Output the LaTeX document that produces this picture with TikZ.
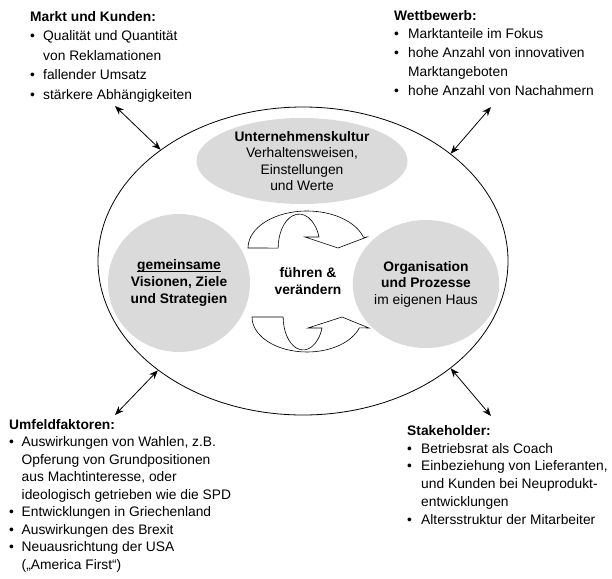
\documentclass[tikz,border=0pt]{standalone}
\usepackage{fontspec}
\setmainfont{Liberation Sans}
\usetikzlibrary{arrows.meta,shapes.geometric}
\definecolor{softgrey}{HTML}{DADADA}
\newcommand{\mybul}[1]{\makebox[#1][l]{\textbullet}}
\newsavebox{\myulbox}
\newcommand{\myul}[1]{\sbox{\myulbox}{#1}\rlap{\usebox{\myulbox}}\rule[-2.6pt]{\wd\myulbox}{0.9pt}}
\tikzset{
  txt/.style={inner sep=0pt, align=left, anchor=north west},
  greyblob/.style={ellipse, fill=softgrey, draw=none, inner sep=0pt, align=center,
    font=\fontsize{13.8}{16.5}\selectfont},
  link/.style={line width=0.8pt, {Stealth[length=9pt,width=7pt]}-{Stealth[length=9pt,width=7pt]}},
  turn/.style={line width=0.6pt, fill=white},
}
\begin{document}
\begin{tikzpicture}[x=1pt,y=-1pt]
\useasboundingbox (0,0) rectangle (612,578);

% outer frame
\node[ellipse, draw, line width=0.8pt, minimum width=410pt, minimum height=308pt, inner sep=0pt] (frame) at (303,261) {};

% grey blobs
\node[greyblob, minimum width=211pt, minimum height=86pt] (kultur) at (302,161)
  {\textbf{Unternehmenskultur}\\Verhaltensweisen,\\Einstellungen\\und Werte};
\node[greyblob, minimum width=142pt, minimum height=138pt, font=\fontsize{13.8}{16.8}\selectfont\bfseries] (vision) at (179,283)
  {\myul{gemeinsame}\\Visionen, Ziele\\und Strategien};
\node[greyblob, minimum width=142pt, minimum height=128pt] (orga) at (426,284)
  {\textbf{Organisation}\\\textbf{und Prozesse}\\im eigenen Haus};

% centre text
\node[inner sep=0pt, align=center, font=\fontsize{13.8}{16.5}\selectfont\bfseries] (fuehren) at (308,281)
  {führen \&\\verändern};

% curved arrows
\draw[turn] (248,248) arc[start angle=180, end angle=343, x radius=59, y radius=37]
  -- (367,237) -- (338,248) -- (305,237) -- (319,237)
  arc[start angle=341, end angle=180, x radius=21, y radius=34] -- cycle;
\draw[turn] (252,317) arc[start angle=180, end angle=18, x radius=55, y radius=35]
  -- (369,328) -- (342,317) -- (308,328) -- (322,328)
  arc[start angle=19.5, end angle=180, x radius=20, y radius=33] -- cycle;

% text blocks
\node[txt, font=\fontsize{13.8}{19.5}\selectfont] (markt) at (30,11)
  {\textbf{Markt und Kunden:}\\
   \mybul{13pt}Qualität und Quantität\\
   \hspace*{13pt}von Reklamationen\\
   \mybul{13pt}fallender Umsatz\\
   \mybul{13pt}stärkere Abhängigkeiten};
\node[txt, font=\fontsize{13.8}{18.75}\selectfont] (wett) at (394,10)
  {\textbf{Wettbewerb:}\\
   \mybul{14pt}Marktanteile im Fokus\\
   \mybul{14pt}hohe Anzahl von innovativen\\
   \hspace*{14pt}Marktangeboten\\
   \mybul{14pt}hohe Anzahl von Nachahmern};
\node[txt, font=\fontsize{13.8}{17.5}\selectfont] (umfeld) at (9,419)
  {\textbf{Umfeldfaktoren:}\\
   \mybul{12.5pt}Auswirkungen von Wahlen, z.B.\\
   \hspace*{12.5pt}Opferung von Grundpositionen\\
   \hspace*{12.5pt}aus Machtinteresse, oder\\
   \hspace*{12.5pt}ideologisch getrieben wie die SPD\\
   \mybul{12.5pt}Entwicklungen in Griechenland\\
   \mybul{12.5pt}Auswirkungen des Brexit\\
   \mybul{12.5pt}Neuausrichtung der USA\\
   \hspace*{12.5pt}(„America First“)};
\node[txt, font=\fontsize{13.8}{17.8}\selectfont] (stake) at (407,425)
  {\textbf{Stakeholder:}\\
   \mybul{14pt}Betriebsrat als Coach\\
   \mybul{14pt}Einbeziehung von Lieferanten,\\
   \hspace*{14pt}und Kunden bei Neuprodukt-\\
   \hspace*{14pt}entwicklungen\\
   \mybul{14pt}Altersstruktur der Mitarbeiter};

% connector ends
\coordinate (mktend) at (115,106);
\coordinate (wettend) at (491,107);
\coordinate (umfend) at (115,415);
\coordinate (stkend) at (491,416);

\draw[link] (mktend) -- (frame.142.8);
\draw[link] (wettend) -- (frame.36.7);
\draw[link] (umfend) -- (frame.217.5);
\draw[link] (stkend) -- (frame.324.4);
\end{tikzpicture}
\end{document}
